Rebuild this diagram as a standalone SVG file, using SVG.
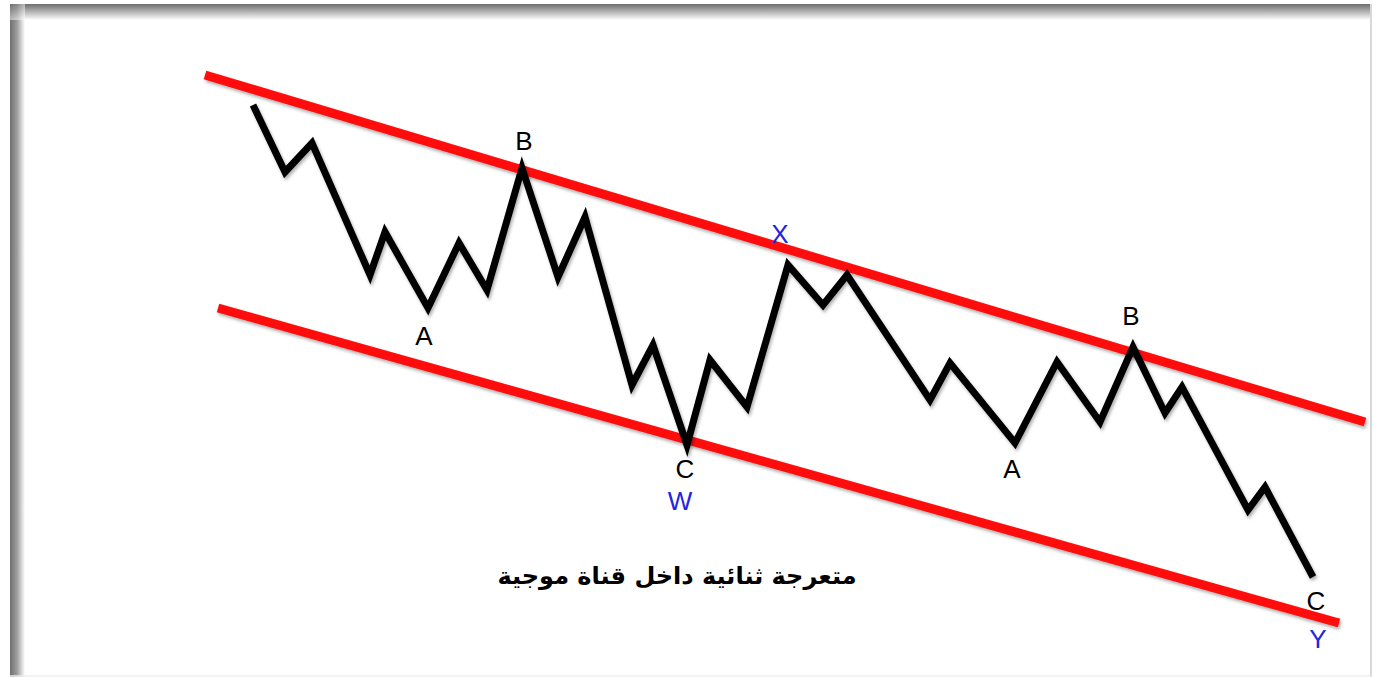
<svg xmlns="http://www.w3.org/2000/svg" width="1380" height="677" viewBox="0 0 1380 677">
<style>
.red{fill:none;stroke:#ff0a0a;stroke-width:9;stroke-linecap:butt}
.wave{fill:none;stroke:#000;stroke-width:7;stroke-linejoin:miter;stroke-miterlimit:4;stroke-linecap:butt}
.lbl{font-family:"Liberation Sans",Arial,sans-serif;font-size:26px;text-anchor:middle;fill:#000}
.blue{fill:#2424e0}
.title{font-family:"DejaVu Sans","Noto Sans",sans-serif;font-weight:bold;font-size:24px;text-anchor:middle;fill:#000}
</style>
<defs>
<linearGradient id="gTop" x1="0" y1="0" x2="0" y2="1">
<stop offset="0" stop-color="#6e6e6e"/>
<stop offset="0.35" stop-color="#a0a0a0"/>
<stop offset="1" stop-color="#ffffff"/>
</linearGradient>
<linearGradient id="gLeft" x1="0" y1="0" x2="1" y2="0">
<stop offset="0" stop-color="#707070"/>
<stop offset="0.45" stop-color="#9a9a9a"/>
<stop offset="1" stop-color="#ffffff"/>
</linearGradient>
<filter id="sh" x="-5%" y="-5%" width="110%" height="115%">
<feDropShadow dx="1.5" dy="2.5" stdDeviation="1.5" flood-color="#000" flood-opacity="0.3"/>
</filter>
</defs>
<rect width="1380" height="677" fill="#fff"/>
<g id="frame">
<rect x="10" y="4" width="1361" height="16" fill="url(#gTop)"/>
<rect x="10" y="4" width="15" height="673" fill="url(#gLeft)"/>
<rect x="10" y="4" width="1361" height="16" fill="url(#gTop)" opacity="0.5"/>
<line x1="1371" y1="4" x2="1371" y2="677" stroke="#d8d8d8" stroke-width="2"/>
<line x1="10" y1="676" x2="1371" y2="676" stroke="#eeeeee" stroke-width="1.5"/>
</g>
<g id="channel" filter="url(#sh)">
<line class="red" x1="205" y1="75" x2="1365" y2="422"/>
<line class="red" x1="218" y1="308" x2="1339" y2="623"/>
</g>
<g id="connectors" filter="url(#sh)">
<polyline class="wave" points="253,105 285,172 312,143 370,275 385,232 428,308 459,243 487,290 522,168 558,277 585,217 632,385 653,345 687,445 710,360 747,407 788,265 823,305 847,275 930,400 950,363 1015,443 1057,362 1100,422 1133,347 1165,413 1182,387 1248,510 1265,487 1313,577"/>
</g>
<g id="label-B1"><text class="lbl" x="524" y="150">B</text></g>
<g id="label-A1"><text class="lbl" x="424" y="345">A</text></g>
<g id="label-X"><text class="lbl blue" x="780" y="243">X</text></g>
<g id="label-C1"><text class="lbl" x="685" y="478">C</text></g>
<g id="label-W"><text class="lbl blue" x="680" y="510">W</text></g>
<g id="label-A2"><text class="lbl" x="1012" y="478">A</text></g>
<g id="label-B2"><text class="lbl" x="1131" y="325">B</text></g>
<g id="label-C2"><text class="lbl" x="1316" y="610">C</text></g>
<g id="label-Y"><text class="lbl blue" x="1318" y="648">Y</text></g>
<g id="title"><text class="title" x="677" y="584">متعرجة ثنائية داخل قناة موجية</text></g>
</svg>
